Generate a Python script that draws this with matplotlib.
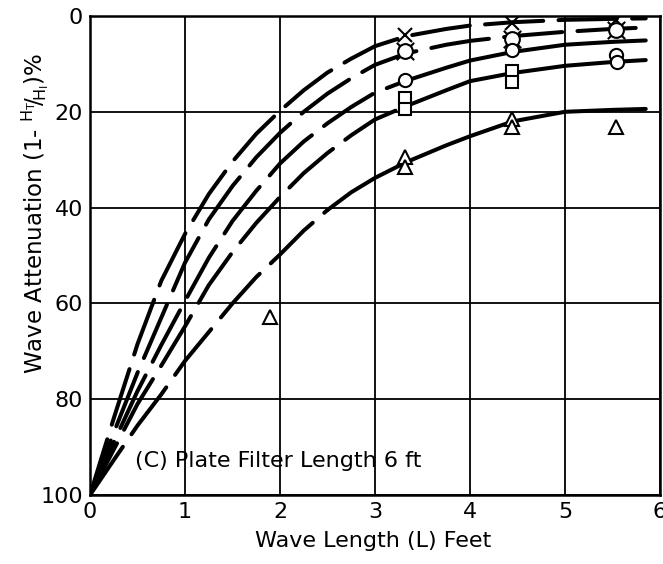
import numpy as np
import matplotlib
matplotlib.use("Agg")
import matplotlib.pyplot as plt
import matplotlib.path as mpath

# ---------------- data ----------------
curve_x = [0, 0.25, 0.5, 0.75, 1.0, 1.25, 1.5, 1.75, 2.0, 2.25, 2.5, 2.75,
           3.0, 3.33, 3.75, 4.0, 4.45, 5.0, 5.5, 5.85]
curve_A = [100, 84, 68.5, 55.3, 45.5, 37.2, 30.4, 24.6, 19.8, 15.5, 11.8, 8.9,
           6.3, 4.2, 2.7, 2.0, 1.3, 0.8, 0.6, 0.5]
curve_B = [100, 87, 74.5, 63, 51.5, 42.5, 35.5, 29.5, 24.4, 20, 16.2, 13.0,
           10.2, 7.8, 6.0, 5.2, 4.2, 3.3, 2.7, 2.4]
curve_C = [100, 89, 78.3, 68.7, 59.5, 50.5, 42.8, 36.5, 30.8, 26.2, 22.4, 19.0,
           16.0, 13.5, 10.8, 9.3, 7.5, 6.0, 5.4, 5.1]
curve_D = [100, 90.5, 81, 73, 64.8, 56.2, 49.3, 43.2, 37.8, 32.8, 28.6, 24.9,
           21.6, 18.8, 15.5, 13.6, 11.9, 10.4, 9.6, 9.2]
curve_E = [100, 92.7, 85.5, 79, 72, 66, 60, 54.5, 49.8, 44.8, 40.5, 36.8,
           33.8, 30.5, 27, 25.1, 22.0, 20.0, 19.6, 19.4]

x_pts_x = [3.32, 4.44, 5.54]
x_pts_y = [4.0, 1.4, 0.8]
a_pts_x = [3.32, 4.44, 5.54]
a_pts_y = [7.4, 4.7, 2.9]
o_pts_x = [3.32, 4.44, 5.54, 5.55]
o_pts_y = [13.4, 7.2, 8.1, 9.5]
s_pts_x = [3.32, 3.32, 4.44, 4.44]
s_pts_y = [17.2, 19.5, 11.4, 13.7]
t_pts_x = [1.89, 3.32, 3.32, 4.44, 4.44, 5.54]
t_pts_y = [62.8, 29.4, 31.5, 21.4, 23.1, 23.1]

x_ticks = [0, 1, 2, 3, 4, 5, 6]
x_ticklabels = ["0", "1", "2", "3", "4", "5", "6"]
y_ticks = [0, 20, 40, 60, 80, 100]
y_ticklabels = ["0", "20", "40", "60", "80", "100"]

# ---------------- figure ----------------
plt.rcParams['font.family'] = ['DejaVu Sans']
plt.rcParams['mathtext.fontset'] = 'dejavusans'
plt.rcParams['lines.scale_dashes'] = False

fig = plt.figure(figsize=(6.63, 5.64), dpi=100)
ax = fig.add_axes([90/663, 1-495/564, 570/663, 479/564])

ax.set_xlim(0, 6)
ax.set_ylim(100, 0)
ax.set_xticks(x_ticks)
ax.set_xticklabels(x_ticklabels)
ax.set_yticks(y_ticks)
ax.set_yticklabels(y_ticklabels)
ax.tick_params(length=0, labelsize=16, pad=5)
ax.grid(True, color='black', linewidth=1.3)
ax.set_axisbelow(True)
for s in ax.spines.values():
    s.set_linewidth(1.8)

LW = 2.9
DASH = (0, (42, 11))
curves = [(curve_A, 5.85), (curve_B, 5.85), (curve_C, 3.33), (curve_D, 3.33), (curve_E, 2.5)]
cx = np.array(curve_x)
for ys, split in curves:
    ys = np.array(ys)
    m1 = cx <= split + 1e-9
    ax.plot(cx[m1], ys[m1], color='black', lw=LW, linestyle=DASH,
            dash_capstyle='round', zorder=3)
    m2 = cx >= split - 1e-9
    if m2.sum() > 1:
        ax.plot(cx[m2], ys[m2], color='black', lw=LW, solid_capstyle='round', zorder=3)

# custom "circle with ears" marker
r = 0.6
circ = mpath.Path.circle((0, 0), r)
verts, codes = [], []
for ang in [45, 135, 225, 315]:
    a = np.deg2rad(ang)
    verts += [(r*np.cos(a), r*np.sin(a)), (np.cos(a), np.sin(a))]
    codes += [mpath.Path.MOVETO, mpath.Path.LINETO]
ears = mpath.Path(verts, codes)
ear_marker = mpath.Path.make_compound_path(circ, ears)

mk = dict(color='black', linestyle='none', markerfacecolor='white',
          markeredgecolor='black', markeredgewidth=1.5, zorder=5)
ax.plot(x_pts_x, x_pts_y, marker='x', markersize=9.5, **mk)
ax.plot(a_pts_x, a_pts_y, marker=ear_marker, markersize=12.5, **mk)
ax.plot(o_pts_x, o_pts_y, marker='o', markersize=9.5, **mk)
ax.plot(s_pts_x, s_pts_y, marker='s', markersize=8.5, **mk)
ax.plot(t_pts_x, t_pts_y, marker='^', markersize=10.5, **mk)

ax.text(135/663, 1-461/564, "(C) Plate Filter Length 6 ft", transform=fig.transFigure,
        fontsize=16, ha='left', va='center')

fig.text(373/663, 1-541/564, "Wave Length (L) Feet", fontsize=16, ha='center', va='center')
fig.text(35/663, 1-213/564,
         r"Wave Attenuation (1- ${}^{\mathrm{H_T}}\!/\!_{\mathrm{H_I}}$)%",
         fontsize=16.5, rotation=90, ha='center', va='center')

fig.savefig("out.png", dpi=100)
